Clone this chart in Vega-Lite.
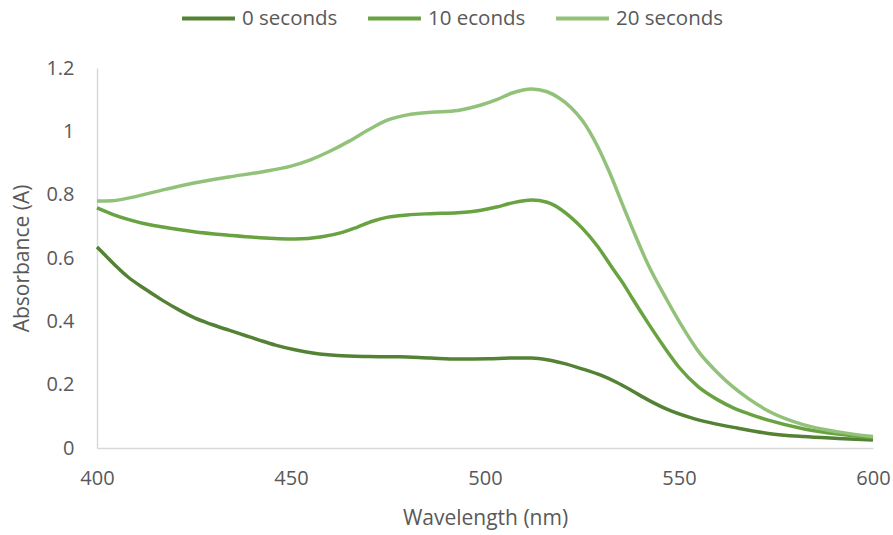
{
  "$schema": "https://vega.github.io/schema/vega-lite/v6.json",
  "width": 776,
  "height": 380,
  "autosize": "none",
  "padding": {"left": 97, "top": 68, "right": 20, "bottom": 87},
  "background": "white",
  "config": {
    "view": {"stroke": null},
    "font": "Open Sans",
    "axis": {
      "grid": false,
      "ticks": false,
      "domainColor": "#d9d9d9",
      "domainWidth": 1.5,
      "labelColor": "#595959",
      "titleColor": "#595959",
      "labelFont": "Open Sans",
      "titleFont": "Open Sans",
      "labelFontSize": 20,
      "titleFontSize": 21,
      "titleFontWeight": "normal"
    }
  },
  "data": {
    "values": [
      {"series": "0 seconds", "nm": 400, "a": 0.635},
      {"series": "0 seconds", "nm": 402, "a": 0.61},
      {"series": "0 seconds", "nm": 404.6, "a": 0.578},
      {"series": "0 seconds", "nm": 408, "a": 0.54},
      {"series": "0 seconds", "nm": 412.4, "a": 0.502},
      {"series": "0 seconds", "nm": 416.8, "a": 0.467},
      {"series": "0 seconds", "nm": 421, "a": 0.437},
      {"series": "0 seconds", "nm": 425.3, "a": 0.41},
      {"series": "0 seconds", "nm": 429.6, "a": 0.39},
      {"series": "0 seconds", "nm": 434, "a": 0.372},
      {"series": "0 seconds", "nm": 438, "a": 0.356},
      {"series": "0 seconds", "nm": 442, "a": 0.34},
      {"series": "0 seconds", "nm": 446, "a": 0.325},
      {"series": "0 seconds", "nm": 451, "a": 0.31},
      {"series": "0 seconds", "nm": 456, "a": 0.299},
      {"series": "0 seconds", "nm": 462, "a": 0.292},
      {"series": "0 seconds", "nm": 470, "a": 0.289},
      {"series": "0 seconds", "nm": 478, "a": 0.288},
      {"series": "0 seconds", "nm": 486, "a": 0.284},
      {"series": "0 seconds", "nm": 493, "a": 0.281},
      {"series": "0 seconds", "nm": 501, "a": 0.282},
      {"series": "0 seconds", "nm": 507, "a": 0.284},
      {"series": "0 seconds", "nm": 512, "a": 0.284},
      {"series": "0 seconds", "nm": 516, "a": 0.279},
      {"series": "0 seconds", "nm": 520, "a": 0.268},
      {"series": "0 seconds", "nm": 525, "a": 0.25},
      {"series": "0 seconds", "nm": 530, "a": 0.229},
      {"series": "0 seconds", "nm": 534, "a": 0.207},
      {"series": "0 seconds", "nm": 538, "a": 0.18},
      {"series": "0 seconds", "nm": 542, "a": 0.152},
      {"series": "0 seconds", "nm": 547, "a": 0.122},
      {"series": "0 seconds", "nm": 553, "a": 0.096},
      {"series": "0 seconds", "nm": 558, "a": 0.08},
      {"series": "0 seconds", "nm": 565, "a": 0.063},
      {"series": "0 seconds", "nm": 573, "a": 0.046},
      {"series": "0 seconds", "nm": 582, "a": 0.036},
      {"series": "0 seconds", "nm": 591, "a": 0.03},
      {"series": "0 seconds", "nm": 600, "a": 0.025},
      {"series": "10 econds", "nm": 400, "a": 0.758},
      {"series": "10 econds", "nm": 404, "a": 0.738},
      {"series": "10 econds", "nm": 408, "a": 0.722},
      {"series": "10 econds", "nm": 412, "a": 0.709},
      {"series": "10 econds", "nm": 417, "a": 0.698},
      {"series": "10 econds", "nm": 425, "a": 0.683},
      {"series": "10 econds", "nm": 434, "a": 0.672},
      {"series": "10 econds", "nm": 442, "a": 0.664},
      {"series": "10 econds", "nm": 451, "a": 0.66},
      {"series": "10 econds", "nm": 458, "a": 0.667},
      {"series": "10 econds", "nm": 463, "a": 0.68},
      {"series": "10 econds", "nm": 467, "a": 0.697},
      {"series": "10 econds", "nm": 471, "a": 0.716},
      {"series": "10 econds", "nm": 475, "a": 0.729},
      {"series": "10 econds", "nm": 480, "a": 0.736},
      {"series": "10 econds", "nm": 486, "a": 0.74},
      {"series": "10 econds", "nm": 493, "a": 0.743},
      {"series": "10 econds", "nm": 499, "a": 0.751},
      {"series": "10 econds", "nm": 503, "a": 0.761},
      {"series": "10 econds", "nm": 507, "a": 0.774},
      {"series": "10 econds", "nm": 512, "a": 0.783},
      {"series": "10 econds", "nm": 516, "a": 0.776},
      {"series": "10 econds", "nm": 519, "a": 0.758},
      {"series": "10 econds", "nm": 522, "a": 0.73},
      {"series": "10 econds", "nm": 525, "a": 0.695},
      {"series": "10 econds", "nm": 529, "a": 0.637},
      {"series": "10 econds", "nm": 533, "a": 0.565},
      {"series": "10 econds", "nm": 536, "a": 0.512},
      {"series": "10 econds", "nm": 538, "a": 0.472},
      {"series": "10 econds", "nm": 542, "a": 0.395},
      {"series": "10 econds", "nm": 546, "a": 0.322},
      {"series": "10 econds", "nm": 550, "a": 0.255},
      {"series": "10 econds", "nm": 555, "a": 0.193},
      {"series": "10 econds", "nm": 560, "a": 0.152},
      {"series": "10 econds", "nm": 564, "a": 0.127},
      {"series": "10 econds", "nm": 568, "a": 0.108},
      {"series": "10 econds", "nm": 573, "a": 0.088},
      {"series": "10 econds", "nm": 582, "a": 0.061},
      {"series": "10 econds", "nm": 591, "a": 0.044},
      {"series": "10 econds", "nm": 600, "a": 0.032},
      {"series": "20 seconds", "nm": 400, "a": 0.78},
      {"series": "20 seconds", "nm": 404, "a": 0.781},
      {"series": "20 seconds", "nm": 408, "a": 0.789},
      {"series": "20 seconds", "nm": 412, "a": 0.8},
      {"series": "20 seconds", "nm": 417, "a": 0.815},
      {"series": "20 seconds", "nm": 425, "a": 0.837},
      {"series": "20 seconds", "nm": 434, "a": 0.856},
      {"series": "20 seconds", "nm": 442, "a": 0.871},
      {"series": "20 seconds", "nm": 450, "a": 0.89},
      {"series": "20 seconds", "nm": 455, "a": 0.91},
      {"series": "20 seconds", "nm": 460, "a": 0.937},
      {"series": "20 seconds", "nm": 465, "a": 0.969},
      {"series": "20 seconds", "nm": 470, "a": 1.005},
      {"series": "20 seconds", "nm": 475, "a": 1.036},
      {"series": "20 seconds", "nm": 480, "a": 1.052},
      {"series": "20 seconds", "nm": 486, "a": 1.06},
      {"series": "20 seconds", "nm": 493, "a": 1.066},
      {"series": "20 seconds", "nm": 499, "a": 1.083},
      {"series": "20 seconds", "nm": 503, "a": 1.1},
      {"series": "20 seconds", "nm": 507, "a": 1.121},
      {"series": "20 seconds", "nm": 512, "a": 1.134},
      {"series": "20 seconds", "nm": 516, "a": 1.125},
      {"series": "20 seconds", "nm": 519, "a": 1.106},
      {"series": "20 seconds", "nm": 522, "a": 1.077},
      {"series": "20 seconds", "nm": 525, "a": 1.036},
      {"series": "20 seconds", "nm": 529, "a": 0.953},
      {"series": "20 seconds", "nm": 532, "a": 0.873},
      {"series": "20 seconds", "nm": 536, "a": 0.752},
      {"series": "20 seconds", "nm": 538, "a": 0.693},
      {"series": "20 seconds", "nm": 542, "a": 0.58},
      {"series": "20 seconds", "nm": 547, "a": 0.465},
      {"series": "20 seconds", "nm": 551, "a": 0.38},
      {"series": "20 seconds", "nm": 555, "a": 0.305},
      {"series": "20 seconds", "nm": 560, "a": 0.237},
      {"series": "20 seconds", "nm": 564, "a": 0.192},
      {"series": "20 seconds", "nm": 568, "a": 0.155},
      {"series": "20 seconds", "nm": 573, "a": 0.117},
      {"series": "20 seconds", "nm": 582, "a": 0.074},
      {"series": "20 seconds", "nm": 591, "a": 0.051},
      {"series": "20 seconds", "nm": 600, "a": 0.036}
    ]
  },
  "mark": {"type": "line", "interpolate": "monotone", "strokeWidth": 3.5},
  "encoding": {
    "x": {
      "field": "nm",
      "type": "quantitative",
      "title": "Wavelength (nm)",
      "scale": {"domain": [400, 600], "nice": false, "zero": false},
      "axis": {"values": [400, 450, 500, 550, 600], "labelPadding": 20, "titlePadding": 19, "labelFlush": false}
    },
    "y": {
      "field": "a",
      "type": "quantitative",
      "title": "Absorbance (A)",
      "scale": {"domain": [0, 1.2], "nice": false},
      "axis": {"values": [0, 0.2, 0.4, 0.6, 0.8, 1, 1.2], "format": "~g", "labelPadding": 23, "titleX": -75, "titleBaseline": "middle", "labelFlush": false}
    },
    "color": {
      "field": "series",
      "type": "nominal",
      "sort": ["0 seconds", "10 econds", "20 seconds"],
      "scale": {"domain": ["0 seconds", "10 econds", "20 seconds"], "range": ["#548235", "#69a341", "#92c27a"]},
      "legend": {
        "title": null,
        "orient": "none",
        "direction": "horizontal",
        "legendX": 83,
        "legendY": -78,
        "symbolType": "stroke",
        "symbolSize": 2800,
        "symbolStrokeWidth": 4,
        "labelFontSize": 20.5,
        "labelFont": "Open Sans",
        "labelColor": "#595959",
        "labelOffset": 5,
        "columnPadding": 22
      }
    }
  }
}
